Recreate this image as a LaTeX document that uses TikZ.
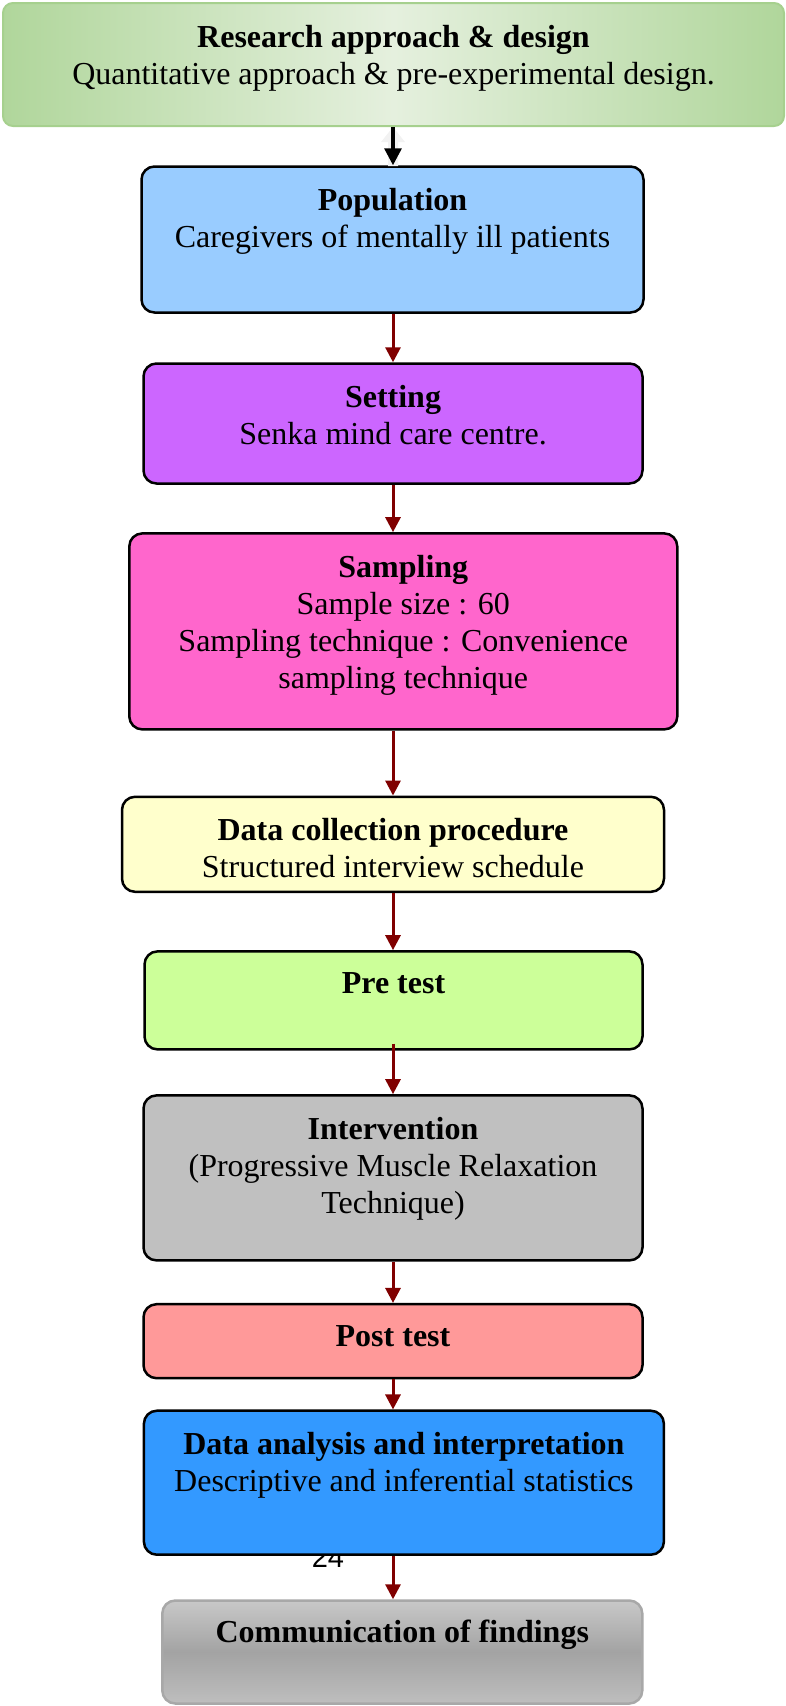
\documentclass[tikz,border=0pt]{standalone}
\usepackage{fontspec}
\setmainfont{Liberation Serif}
\newfontfamily\pagefont{Liberation Sans}
\usetikzlibrary{arrows.meta}

\definecolor{grnedge}{HTML}{B0D69B}
\definecolor{grnmid}{HTML}{E5F0DE}
\definecolor{grnborder}{HTML}{A6D08E}
\definecolor{popfill}{HTML}{99CCFF}
\definecolor{setfill}{HTML}{CC66FF}
\definecolor{sampfill}{HTML}{FF66CC}
\definecolor{dcpfill}{HTML}{FFFFCC}
\definecolor{prefill}{HTML}{CCFF99}
\definecolor{intfill}{HTML}{C0C0C0}
\definecolor{postfill}{HTML}{FF9999}
\definecolor{anafill}{HTML}{3399FF}
\definecolor{findtop}{HTML}{C8C8C8}
\definecolor{findmid}{HTML}{A3A3A3}
\definecolor{findbot}{HTML}{BEBEBE}
\definecolor{findborder}{HTML}{A8A8A8}
\definecolor{arrowred}{HTML}{800000}

\tikzset{
	stage/.style={draw, line width=2.5pt, rounded corners=13pt, inner sep=0pt},
	stagetext/.style={anchor=north, align=center, inner sep=0pt,
		font=\fontsize{32}{37}\selectfont, execute at begin node=\strut},
	flow/.style={draw=arrowred, line width=3pt, -{Triangle[width=15pt,length=15pt]}}
}

\begin{document}
\begin{tikzpicture}[x=1pt, y=-1pt]
	\useasboundingbox (0,0) rectangle (786,1706);
	\def\tx{-23pt}
	\def\ty{-17pt}
	\coordinate (axis) at (393,0);
	
	% page number, half hidden by the analysis box
	\node[anchor=base, inner sep=0pt, font=\pagefont\fontsize{29}{29}\selectfont] (pagenum) at (328,1567) {24};
	
	\node[stage, draw=grnborder, line width=2pt, rounded corners=10pt,
		left color=grnedge, right color=grnedge, middle color=grnmid,
		minimum width=781pt, minimum height=123pt] (research) at (393.5,64.5) {};
	\node[stage, fill=popfill, minimum width=502pt, minimum height=146pt] (popul) at (392.5,239.5) {};
	\node[stage, fill=setfill, minimum width=499pt, minimum height=120pt] (setting) at (393,423.5) {};
	\node[stage, fill=sampfill, minimum width=548pt, minimum height=196pt] (sampling) at (403.3,631.4) {};
	\node[stage, fill=dcpfill, minimum width=542pt, minimum height=95pt] (datacoll) at (393,844.3) {};
	\node[stage, fill=prefill, minimum width=498pt, minimum height=98pt] (pretest) at (393.5,1000.4) {};
	\node[stage, fill=intfill, minimum width=499pt, minimum height=165pt] (interv) at (393,1177.9) {};
	\node[stage, fill=postfill, minimum width=499pt, minimum height=74pt] (posttest) at (393,1341.2) {};
	\node[stage, fill=anafill, minimum width=520pt, minimum height=144pt] (analysis) at (403.9,1482.7) {};
	\node[stage, draw=findborder, top color=findtop, bottom color=findbot, middle color=findmid,
		minimum width=480pt, minimum height=103pt] (findings) at (402.3,1652) {};
	
	\node[stagetext] (researchT) at ([yshift=\tx]research.north) {\textbf{Research approach \& design}\\Quantitative approach \& pre-experimental design.};
	\node[stagetext] (populT) at ([yshift=\tx]popul.north) {\textbf{Population}\\Caregivers of mentally ill patients};
	\node[stagetext] (settingT) at ([yshift=\tx]setting.north) {\textbf{Setting}\\Senka mind care centre.};
	\node[stagetext] (samplingT) at ([yshift=\tx]sampling.north) {\textbf{Sampling}\\Sample size : 60\\Sampling technique : Convenience\\sampling technique};
	\node[stagetext] (datacollT) at ([yshift=\tx]datacoll.north) {\textbf{Data collection procedure}\\Structured interview schedule};
	\node[stagetext] (pretestT) at ([yshift=\ty]pretest.north) {\textbf{Pre test}};
	\node[stagetext] (intervT) at ([yshift=\tx]interv.north) {\textbf{Intervention}\\(Progressive Muscle Relaxation\\Technique)};
	\node[stagetext] (posttestT) at ([yshift=\ty]posttest.north) {\textbf{Post test}};
	\node[stagetext] (analysisT) at ([yshift=\tx]analysis.north) {\textbf{Data analysis and interpretation}\\Descriptive and inferential statistics};
	\node[stagetext] (findingsT) at ([yshift=\ty]findings.north) {\textbf{Communication of findings}};
	
	% faint ghost arrow under the first connector
	\fill[black!5] (393,127) -- (405,142) -- (398,142) -- (398,166) -- (388,166) -- (388,142) -- (381,142) -- cycle;
	\draw[line width=3.3pt, -{Triangle[width=17pt,length=17pt]}] (research.south -| axis) -- (popul.north -| axis);
	
	\draw[flow] (popul.south -| axis) -- (setting.north -| axis);
	\draw[flow] (setting.south -| axis) -- (sampling.north -| axis);
	\draw[flow] (sampling.south -| axis) -- (datacoll.north -| axis);
	\draw[flow] (datacoll.south -| axis) -- (pretest.north -| axis);
	\draw[flow, shorten <=-7pt] (pretest.south -| axis) -- (interv.north -| axis);
	\draw[flow] (interv.south -| axis) -- (posttest.north -| axis);
	\draw[flow] (posttest.south -| axis) -- (analysis.north -| axis);
	\draw[flow] (analysis.south -| axis) -- (findings.north -| axis);
\end{tikzpicture}
\end{document}
